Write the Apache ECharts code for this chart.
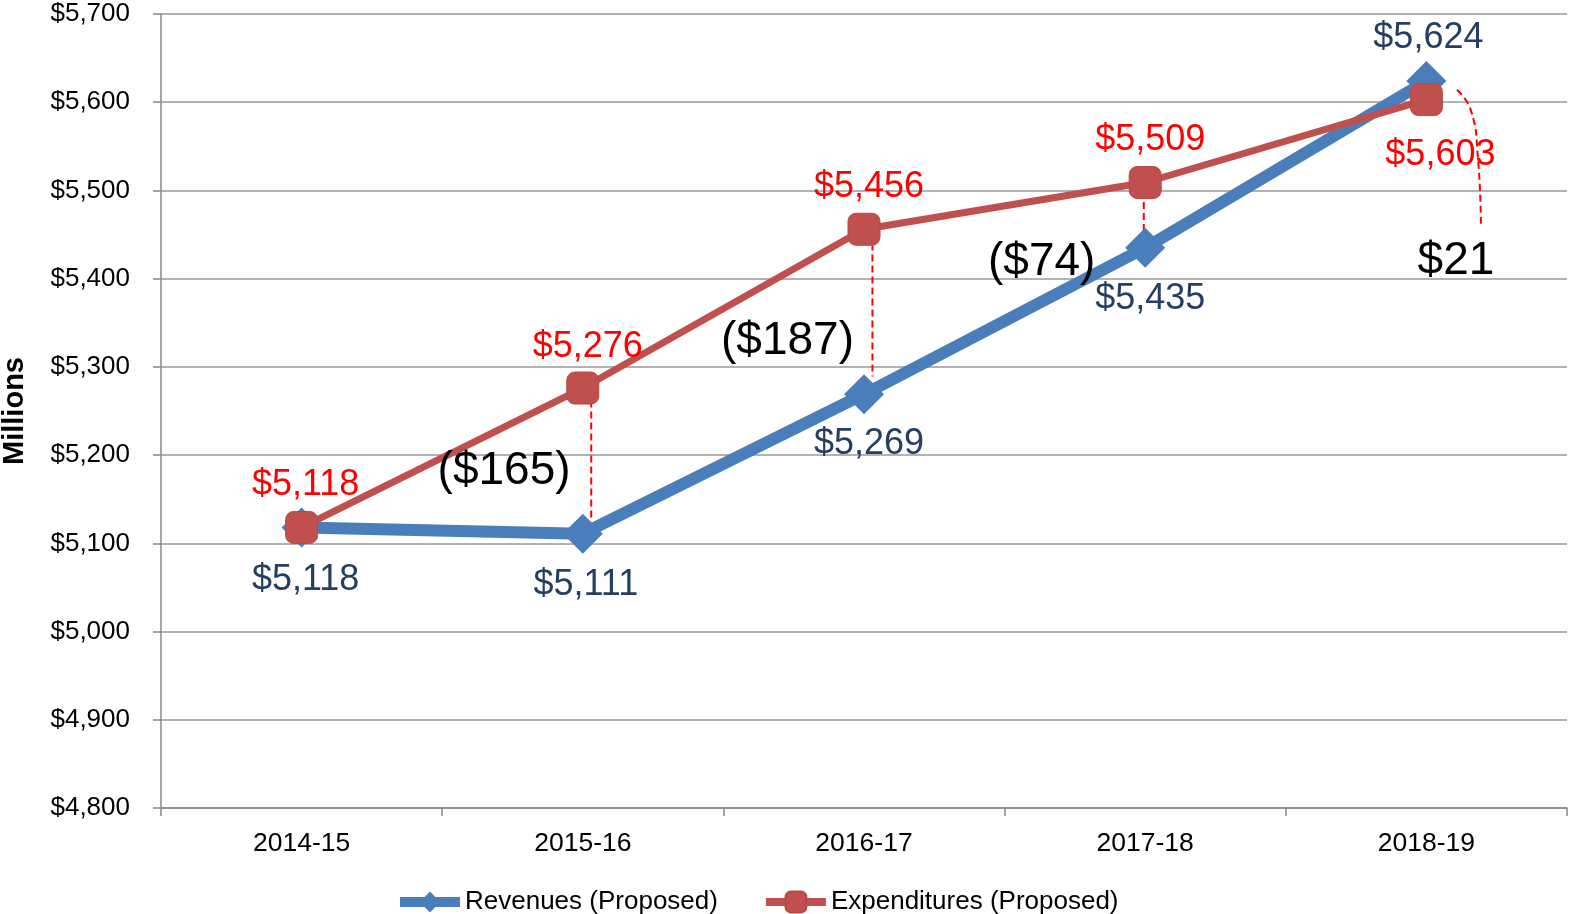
<!DOCTYPE html>
<html>
<head>
<meta charset="utf-8">
<script src="https://cdn.jsdelivr.net/npm/echarts@6/dist/echarts.min.js"></script>
<style>
html,body{margin:0;padding:0;background:#fff;}
#chart{width:1570px;height:914px;}
</style>
</head>
<body>
<div id="chart"></div>
<script>
const categories = ['2014-15', '2015-16', '2016-17', '2017-18', '2018-19'];
const revenues = [5118, 5111, 5269, 5435, 5624];
const expenditures = [5118, 5276, 5456, 5509, 5603];
const yTicks = { min: 4800, max: 5700, interval: 100 };

const FONT = '"Liberation Sans", Arial, sans-serif';
const fmtMoney = v => '$' + v.toLocaleString('en-US');
const fmtDiff = d => d < 0 ? '($' + Math.abs(d) + ')' : '$' + d;

// label layout (pixel offsets relative to marker centre)
const revOffsets = [[4, 53], [3, 51], [5, 50], [5, 51], [2, -43]];
const expOffsets = [[4, -42], [5, -41], [5, -42], [5, -42], [14, 56]];

// annotation positions in (category index, value) space
const diffPos = [[0.72, 5182], [1.728, 5329], [2.632, 5419], [4.105, 5420]];
const leaderLines = [
  [[1.03, 5262], [1.03, 5125]],
  [[2.03, 5440], [2.03, 5289]],
  [[2.995, 5487], [2.995, 5434]]
];
const curvedLeader = [[4.109, 5614], [4.158, 5591], [4.183, 5538], [4.194, 5460]];

const diffs = [1, 2, 3, 4].map(i => revenues[i] - expenditures[i]);

const chart = echarts.init(document.getElementById('chart'));

const series = [
  {
    name: 'Revenues (Proposed)',
    type: 'line',
    data: revenues.map((v, i) => ({
      value: v,
      label: { offset: revOffsets[i] }
    })),
    symbol: 'diamond',
    symbolSize: 40,
    lineStyle: { color: '#4a7ebb', width: 12 },
    itemStyle: { color: '#4a7ebb' },
    label: {
      show: true, position: 'inside', formatter: p => fmtMoney(p.value),
      color: '#243f62', fontSize: 36, fontFamily: FONT
    },
    z: 3
  },
  {
    name: 'Expenditures (Proposed)',
    type: 'line',
    data: expenditures.map((v, i) => ({
      value: v,
      label: { offset: expOffsets[i] }
    })),
    symbol: 'roundRect',
    symbolSize: 32,
    lineStyle: { color: '#c0504d', width: 7 },
    itemStyle: { color: '#c0504d', borderColor: '#b84844', borderWidth: 1 },
    label: {
      show: true, position: 'inside', formatter: p => fmtMoney(p.value),
      color: '#ff0000', fontSize: 36, fontFamily: FONT
    },
    z: 4
  }
];

leaderLines.forEach(seg => {
  series.push({
    type: 'line', xAxisIndex: 1, data: seg, symbol: 'none', silent: true,
    lineStyle: { color: '#ff0000', width: 2, type: [7, 4] }, z: 2
  });
});
series.push({
  type: 'line', xAxisIndex: 1, data: curvedLeader, symbol: 'none', silent: true, smooth: true,
  lineStyle: { color: '#ff0000', width: 2, type: [7, 4] }, z: 2
});
series.push({
  type: 'scatter', xAxisIndex: 1, symbolSize: 0, silent: true,
  itemStyle: { opacity: 1 },
  data: diffPos.map((p, i) => ({ value: p, diff: diffs[i] })),
  label: {
    show: true, position: 'inside',
    formatter: p => fmtDiff(p.data.diff),
    color: '#000', fontSize: 46, fontFamily: FONT, opacity: 1
  },
  z: 5
});

chart.setOption({
  animation: false,
  textStyle: { fontFamily: FONT },
  grid: { left: 161, right: 3, top: 14, bottom: 106, outerBoundsMode: 'none', containLabel: false },
  legend: {
    data: [
      { name: 'Revenues (Proposed)', lineStyle: { width: 10, color: '#4a7ebb' } },
      { name: 'Expenditures (Proposed)', lineStyle: { width: 8, color: '#c0504d' } }
    ],
    left: 390, top: 884,
    itemWidth: 60, itemHeight: 26, itemGap: 44,
    textStyle: { fontSize: 26, color: '#000', fontFamily: FONT }
  },
  xAxis: [
    {
      type: 'category', data: categories, boundaryGap: true,
      axisLine: { lineStyle: { color: '#888', width: 1.5 } },
      axisTick: { show: true, length: 8, alignWithLabel: false, lineStyle: { color: '#888', width: 1.5 } },
      axisLabel: { color: '#000', fontSize: 26.5, margin: 22, fontFamily: FONT }
    },
    { type: 'value', min: -0.5, max: 4.5, show: false }
  ],
  yAxis: {
    type: 'value', min: yTicks.min, max: yTicks.max, interval: yTicks.interval,
    name: 'Millions', nameLocation: 'middle', nameGap: 132, nameRotate: 90,
    nameTextStyle: { fontSize: 29, fontWeight: 'bold', color: '#000', fontFamily: FONT },
    axisLine: { show: true, onZero: false, lineStyle: { color: '#888', width: 1.5 } },
    axisTick: { show: true, length: 8, lineStyle: { color: '#888', width: 1.5 } },
    axisLabel: { color: '#000', fontSize: 26, margin: 31, formatter: v => fmtMoney(v), fontFamily: FONT },
    splitLine: { lineStyle: { color: '#999', width: 1.5 } }
  },
  series
});
</script>
</body>
</html>
